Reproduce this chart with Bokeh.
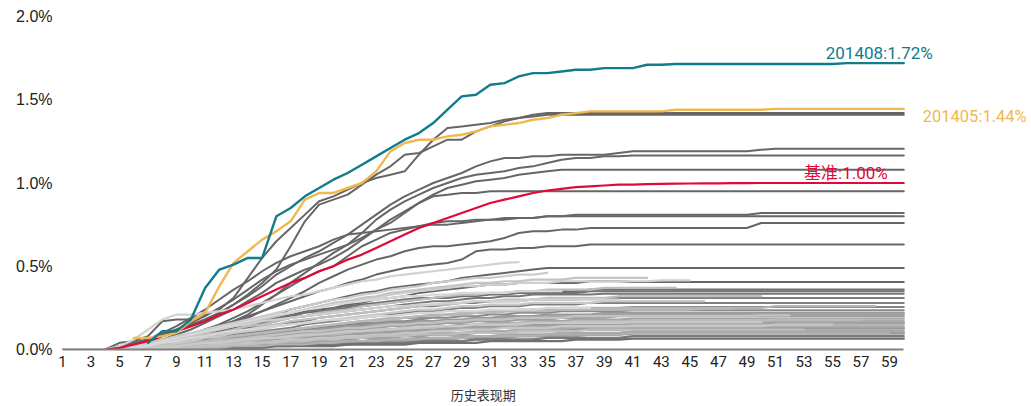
from bokeh.plotting import figure
from bokeh.models import Range1d, FixedTicker, PrintfTickFormatter, Label, LinearAxis
from bokeh.embed import file_html
from bokeh.resources import INLINE

# ---------------- data (basis points, 0.01%) ----------------
x_ticks = list(range(1, 60, 2))
y_ticks = [0.0, 0.5, 1.0, 1.5, 2.0]
x_title = "历史表现期"
x_title_pos = 30.5   # centre of periods 1..60

teal_name = "201408"
teal_start = 7
teal_vals = [4, 11, 11, 18,
             37, 48, 51, 55, 55, 80, 85, 92, 97, 102,
             106, 111, 116, 121, 126, 130, 136, 144, 152, 153,
             159, 160, 164, 166, 166, 167, 168, 168, 169, 169,
             169, 171, 171, 171.5, 171.5, 171.5, 171.5, 171.5, 171.5, 171.5,
             171.5, 171.5, 171.5, 171.5, 171.5, 172, 172, 172, 172, 172]
teal_label = "201408:1.72%"

yellow_name = "201405"
yellow_start = 6
yellow_vals = [7, 7, 8, 10, 17,
               22, 38, 52, 59, 66, 71, 77, 90, 94, 94,
               97, 100, 107, 119, 124, 126, 126, 128, 129, 131,
               134, 135, 136, 138, 139, 141, 142, 143, 143, 143,
               143, 143, 143, 144, 144, 144, 144, 144, 144, 144,
               144.5, 144.5, 144.5, 144.5, 144.5, 144.5, 144.5, 144.5, 144.5, 144.5]
yellow_label = "201405:1.44%"

base_start = 4
base_vals = [0, 1, 3, 5, 8, 11, 14,
             17, 21, 24, 28, 32, 36, 40, 43, 47, 50,
             54, 57, 61, 65, 69, 73, 76, 79, 82, 85,
             88, 90, 92, 94, 95.5, 96.5, 97.5, 98, 98.5, 99,
             99, 99.3, 99.5, 99.6, 99.7, 99.8, 99.8, 99.9, 99.9, 100,
             100, 100, 100, 100, 100, 100, 100, 100, 100, 100]
base_label = "基准:1.00%"

# older vintages (full 60 periods)
old_a1 = [0, 0, 0, 0, 4, 5, 8, 17, 18, 18,
          21, 24, 31, 43, 55, 65, 73, 81, 89, 92,
          96, 100, 103, 105, 107, 117, 126, 133, 134, 135,
          136, 138, 139, 141, 142, 142, 142, 142, 142, 142,
          142, 142, 142, 142, 142, 142, 142, 142, 142, 142,
          142, 142, 142, 142, 142, 142, 142, 142, 142, 142]
old_a2 = [0, 0, 0, 0, 2, 4, 6, 9, 12, 15,
          18, 22, 27, 33, 40, 48, 62, 77, 87, 90,
          93, 99, 105, 110, 117, 118, 122, 126, 126, 131,
          134, 137, 139, 140, 141, 141, 141, 141, 141, 141,
          141, 141, 141, 141, 141, 141, 141, 141, 141, 141,
          141, 141, 141, 141, 141, 141, 141, 141, 141, 141]
old_b = [0, 0, 0, 0, 1, 3, 5, 8, 11, 14,
         18, 22, 27, 32, 38, 45, 50, 55, 59, 64,
         69, 75, 81, 87, 92, 96, 100, 103, 106, 110,
         113, 115, 115, 116, 116, 117, 117, 117, 117, 118,
         119, 119, 119, 119, 119, 119, 119, 119, 119, 120,
         120.5, 120.5, 120.5, 120.5, 120.5, 120.5, 120.5, 120.5, 120.5, 120.5]
old_c = [0, 0, 0, 0, 1, 2, 3, 5, 7, 9,
         12, 15, 19, 23, 28, 33, 40, 46, 52, 58,
         63, 70, 78, 84, 89, 93, 97, 100, 103, 105,
         106, 107, 109, 110, 112, 114, 115, 115, 116, 116,
         116.5, 116.5, 116.5, 116.5, 116.5, 116.5, 116.5, 116.5, 116.5, 116.5,
         116.5, 116.5, 116.5, 116.5, 116.5, 116.5, 116.5, 116.5, 116.5, 116.5]
old_d = [0, 0, 0, 0, 2, 4, 6, 9, 12, 16,
         20, 25, 30, 36, 42, 47, 51, 54, 57, 60,
         63, 67, 72, 76, 82, 88, 93, 97, 99, 101,
         102, 103, 105, 106, 107, 108, 108, 108, 108, 108,
         108, 108, 108, 108, 108, 108, 108, 108, 108, 108,
         108, 108, 108, 108, 108, 108, 108, 108, 108, 108]
old_e = [0, 0, 0, 0, 1, 2, 4, 6, 9, 12,
         16, 20, 24, 29, 34, 40, 44, 48, 51, 55,
         60, 66, 72, 78, 83, 88, 92, 93, 94, 94,
         95, 95, 95, 95, 95, 95, 95, 95, 95, 95,
         95, 95, 95, 95, 95, 95, 95, 95, 95, 95,
         95, 95, 95, 95, 95, 95, 95, 95, 95, 95]
old_f = [0, 0, 0, 0, 1, 3, 6, 10, 14, 19,
         24, 30, 36, 41, 47, 52, 56, 59, 62, 66,
         69, 70, 71, 72, 73, 74, 75, 75, 76, 77,
         78, 78, 79, 79, 80, 80, 81, 81, 81, 81,
         81, 81, 81, 81, 81, 81, 81, 81, 81, 82,
         82, 82, 82, 82, 82, 82, 82, 82, 82, 82]
old_g = [0, 0, 0, 0, 0, 1, 2, 4, 6, 8,
         11, 14, 17, 21, 27, 33, 38, 43, 47, 50,
         56, 62, 66, 70, 72, 74, 76, 77, 77, 78,
         78, 79, 79, 79, 80, 80, 80, 80, 80, 80,
         80, 80, 80, 80, 80, 80, 80, 80, 80, 80,
         80, 80, 80, 80, 80, 80, 80, 80, 80, 80]
old_h = [0, 0, 0, 0, 1, 2, 3, 5, 7, 9,
         11, 13, 16, 19, 23, 27, 31, 35, 40, 44,
         48, 51, 54, 56, 59, 61, 62, 62, 63, 64,
         65, 67, 70, 71, 71, 72, 72, 73, 73, 73,
         73, 73, 73, 73, 73, 73, 73, 73, 73, 76,
         76, 76, 76, 76, 76, 76, 76, 76, 76, 76]
old_i = [0, 0, 0, 0, 0, 1, 3, 5, 7, 9,
         12, 14, 17, 20, 23, 26, 29, 32, 35, 37,
         40, 42, 45, 47, 49, 50, 51, 52, 54, 59,
         60, 60, 61, 61, 62, 62, 62, 63, 63, 63,
         63, 63, 63, 63, 63, 63, 63, 63, 63, 63,
         63, 63, 63, 63, 63, 63, 63, 63, 63, 63]
old_j = [0, 0, 0, 0, 0, 1, 2, 4, 6, 8,
         10, 12, 15, 17, 19, 21, 24, 26, 28, 30,
         32, 34, 35, 37, 38, 39, 40, 41, 43, 44,
         45, 46, 47, 48, 49, 49, 49, 49, 49, 49,
         49, 49, 49, 49, 49, 49, 49, 49, 49, 49,
         49, 49, 49, 49, 49, 49, 49, 49, 49, 49]
old_k = [0, 0, 0, 0, 0, 1, 2, 3, 5, 7,
         9, 11, 13, 15, 17, 19, 21, 23, 24, 25,
         27, 28, 30, 31, 32, 34, 35, 36, 37, 38,
         39, 39, 40, 40, 40, 40, 40, 41, 41, 41,
         40.5, 40.5, 40.5, 40.5, 40.5, 40.5, 40.5, 40.5, 40.5, 40.5,
         40.5, 40.5, 40.5, 40.5, 40.5, 40.5, 40.5, 40.5, 40.5, 40.5]

mid_1 = [0, 0, 0, 0, 1, 2, 3, 5, 7, 8,
         10, 12, 14, 16, 17, 19, 20, 22, 23, 25,
         26, 27, 28, 29, 30, 31, 31, 32, 33, 33,
         34, 34, 35, 35, 35, 35, 35, 36, 36, 36,
         36, 36, 36, 36, 36, 36, 36, 36, 36, 36,
         36, 36, 36, 36, 36, 36, 36, 36, 36, 36]
mid_2 = [0, 0, 0, 0, 0, 1, 2, 3, 5, 6,
         8, 10, 12, 13, 15, 17, 19, 20, 22, 24,
         25, 26, 27, 28, 29, 30, 31, 31, 32, 32,
         33, 33, 34, 34, 34, 34, 34, 35, 35, 35,
         35, 35, 35, 35, 35, 35, 35, 35, 35, 35,
         35, 35, 35, 35, 35, 35, 35, 35, 35, 35]
mid_3 = [0, 0, 0, 0, 1, 2, 4, 6, 7, 9,
         11, 12, 14, 15, 16, 18, 19, 20, 21, 22,
         23, 24, 25, 26, 27, 28, 29, 29, 30, 31,
         31, 32, 32, 33, 33, 33, 33, 33, 33.5, 33.5,
         33.5, 33.5, 33.5, 33.5, 33.5, 33.5, 33.5, 33.5, 33.5, 33.5,
         33.5, 33.5, 33.5, 33.5, 33.5, 33.5, 33.5, 33.5, 33.5, 33.5]
mid_4 = [0, 0, 0, 0, 0, 1, 2, 3, 4, 6,
         7, 9, 10, 12, 13, 15, 16, 17, 19, 20,
         21, 22, 23, 24, 25, 26, 26, 27, 28, 28,
         29, 29, 29, 30, 30, 30, 30, 31, 31, 31,
         31, 31, 31, 31, 31, 31, 31, 31, 31, 31,
         31, 31, 31, 31, 31, 31, 31, 31, 31, 31]
mid_5 = [0, 0, 0, 0, 0, 1, 2, 3, 4, 5,
         6, 7, 9, 10, 11, 12, 13, 15, 16, 17,
         18, 19, 20, 21, 22, 23, 23, 24, 25, 25,
         26, 26, 26, 27, 27, 27, 27, 28, 28, 28,
         28, 28, 28, 28, 28, 28, 28, 28, 28, 28,
         28, 28, 28, 28, 28, 28, 28, 28, 28, 28]
mid_6 = [0, 0, 0, 0, 0, 1, 1, 2, 3, 4,
         5, 6, 7, 8, 9, 10, 11, 12, 13, 14,
         15, 16, 17, 18, 19, 19, 20, 21, 21, 22,
         22, 23, 23, 24, 24, 24, 25, 25, 25, 25,
         25.5, 25.5, 25.5, 25.5, 25.5, 25.5, 25.5, 25.5, 25.5, 25.5,
         25.5, 25.5, 25.5, 25.5, 25.5, 25.5, 25.5, 25.5, 25.5, 25.5]
mid_7 = [0, 0, 0, 0, 0, 0, 1, 2, 3, 4,
         5, 6, 7, 8, 9, 10, 11, 12, 13, 13,
         14, 15, 16, 17, 17, 18, 19, 19, 20, 20,
         21, 21, 22, 22, 22, 23, 23, 23, 23, 23,
         23.5, 23.5, 23.5, 23.5, 23.5, 23.5, 23.5, 23.5, 23.5, 23.5,
         23.5, 23.5, 23.5, 23.5, 23.5, 23.5, 23.5, 23.5, 23.5, 23.5]

low_1 = [0, 0, 0, 0, 0, 0, 1, 2, 3, 4,
         5, 6, 7, 8, 9, 10, 10, 11, 12, 13,
         14, 14, 15, 16, 16, 17, 17, 18, 18, 19,
         19, 20, 20, 20, 21, 21, 21, 21, 22, 22,
         22, 22, 22, 22, 22, 22, 22, 22, 22, 22,
         22, 22, 22, 22, 22, 22, 22, 22, 22, 22]
low_2 = [0, 0, 0, 0, 0, 0, 1, 1, 2, 3,
         3, 4, 5, 6, 7, 8, 9, 9, 10, 11,
         12, 12, 13, 14, 14, 15, 15, 16, 16, 17,
         17, 17, 18, 18, 18, 19, 19, 19, 19, 20,
         20, 20, 20, 20, 20, 20, 20, 20, 20, 20,
         20, 20, 20, 20, 20, 20, 20, 20, 20, 20]
low_3 = [0, 0, 0, 0, 0, 0, 0, 1, 1, 2,
         3, 3, 4, 5, 6, 6, 7, 8, 9, 9,
         10, 11, 11, 12, 13, 13, 14, 14, 15, 15,
         16, 16, 16, 17, 17, 17, 18, 18, 18, 18,
         18.5, 18.5, 18.5, 18.5, 18.5, 18.5, 18.5, 18.5, 18.5, 18.5,
         18.5, 18.5, 18.5, 18.5, 18.5, 18.5, 18.5, 18.5, 18.5, 18.5]
low_4 = [0, 0, 0, 0, 0, 0, 1, 1, 2, 3,
         4, 5, 5, 6, 7, 8, 8, 9, 10, 10,
         11, 11, 12, 12, 13, 13, 14, 14, 14, 15,
         15, 15, 16, 16, 16, 16, 16, 17, 17, 17,
         17, 17, 17, 17, 17, 17, 17, 17, 17, 17,
         17, 17, 17, 17, 17, 17, 17, 17, 17, 17]
low_5 = [0, 0, 0, 0, 0, 0, 0, 1, 1, 2,
         2, 3, 3, 4, 5, 5, 6, 6, 7, 8,
         8, 9, 9, 10, 10, 11, 11, 12, 12, 13,
         13, 13, 14, 14, 14, 14, 15, 15, 15, 15,
         15.5, 15.5, 15.5, 15.5, 15.5, 15.5, 15.5, 15.5, 15.5, 15.5,
         15.5, 15.5, 15.5, 15.5, 15.5, 15.5, 15.5, 15.5, 15.5, 15.5]
low_6 = [0, 0, 0, 0, 0, 0, 0, 0, 1, 1,
         2, 2, 3, 3, 4, 4, 5, 5, 6, 6,
         7, 7, 8, 8, 9, 9, 10, 10, 10, 11,
         11, 11, 12, 12, 12, 13, 13, 13, 13, 13,
         14, 14, 14, 14, 14, 14, 14, 14, 14, 14,
         14, 14, 14, 14, 14, 14, 14, 14, 14, 14]
low_7 = [0, 0, 0, 0, 0, 0, 0, 1, 1, 1,
         2, 2, 3, 3, 3, 4, 4, 5, 5, 6,
         6, 7, 7, 7, 8, 8, 9, 9, 9, 10,
         10, 10, 11, 11, 11, 11, 12, 12, 12, 12,
         12.5, 12.5, 12.5, 12.5, 12.5, 12.5, 12.5, 12.5, 12.5, 12.5,
         12.5, 12.5, 12.5, 12.5, 12.5, 12.5, 12.5, 12.5, 12.5, 12.5]
low_8 = [0, 0, 0, 0, 0, 0, 0, 0, 1, 1,
         1, 2, 2, 2, 3, 3, 4, 4, 4, 5,
         5, 5, 6, 6, 6, 7, 7, 7, 8, 8,
         8, 9, 9, 9, 9, 10, 10, 10, 10, 10,
         11, 11, 11, 11, 11, 11, 11, 11, 11, 11,
         11, 11, 11, 11, 11, 11, 11, 11, 11, 11]
low_9 = [0, 0, 0, 0, 0, 0, 0, 0, 0, 1,
         1, 1, 2, 2, 2, 3, 3, 3, 4, 4,
         4, 5, 5, 5, 5, 6, 6, 6, 7, 7,
         7, 7, 8, 8, 8, 8, 8, 9, 9, 9,
         9.5, 9.5, 9.5, 9.5, 9.5, 9.5, 9.5, 9.5, 9.5, 9.5,
         9.5, 9.5, 9.5, 9.5, 9.5, 9.5, 9.5, 9.5, 9.5, 9.5]
low_10 = [0, 0, 0, 0, 0, 0, 0, 0, 0, 1,
          1, 1, 1, 2, 2, 2, 2, 3, 3, 3,
          3, 4, 4, 4, 4, 5, 5, 5, 5, 6,
          6, 6, 6, 6, 7, 7, 7, 7, 7, 7,
          8, 8, 8, 8, 8, 8, 8, 8, 8, 8,
          8, 8, 8, 8, 8, 8, 8, 8, 8, 8]
low_11 = [0, 0, 0, 0, 0, 0, 0, 0, 0, 0,
          1, 1, 1, 1, 1, 2, 2, 2, 2, 2,
          3, 3, 3, 3, 3, 4, 4, 4, 4, 4,
          5, 5, 5, 5, 5, 5, 6, 6, 6, 6,
          6.5, 6.5, 6.5, 6.5, 6.5, 6.5, 6.5, 6.5, 6.5, 6.5,
          6.5, 6.5, 6.5, 6.5, 6.5, 6.5, 6.5, 6.5, 6.5, 6.5]
low_12 = [0, 0, 0, 0, 0, 0, 1, 1, 2, 3,
          4, 5, 6, 7, 8, 8, 9, 10, 11, 12,
          12, 13, 14, 15, 15, 16, 16, 17, 17, 18,
          18, 19, 19, 19, 20, 20, 20, 20, 21, 21,
          21, 21, 21, 21, 21, 21, 21, 21, 21, 21,
          21, 21, 21, 21, 21, 21, 21, 21, 21, 21]
low_13 = [0, 0, 0, 0, 0, 0, 0, 1, 1, 2,
          3, 3, 4, 5, 5, 6, 7, 7, 8, 9,
          9, 10, 10, 11, 11, 12, 12, 13, 13, 14,
          14, 14, 15, 15, 15, 15, 16, 16, 16, 16,
          16.5, 16.5, 16.5, 16.5, 16.5, 16.5, 16.5, 16.5, 16.5, 16.5,
          16.5, 16.5, 16.5, 16.5, 16.5, 16.5, 16.5, 16.5, 16.5, 16.5]
low_14 = [0, 0, 0, 0, 0, 0, 0, 0, 1, 1,
          2, 2, 2, 3, 3, 4, 4, 5, 5, 6,
          6, 7, 7, 8, 8, 8, 9, 9, 10, 10,
          10, 11, 11, 11, 11, 12, 12, 12, 12, 12,
          13, 13, 13, 13, 13, 13, 13, 13, 13, 13,
          13, 13, 13, 13, 13, 13, 13, 13, 13, 13]
low_15 = [0, 0, 0, 0, 0, 0, 0, 0, 0, 1,
          1, 1, 2, 2, 2, 3, 3, 3, 3, 4,
          4, 4, 5, 5, 5, 6, 6, 6, 7, 7,
          7, 7, 8, 8, 8, 8, 9, 9, 9, 9,
          10, 10, 10, 10, 10, 10, 10, 10, 10, 10,
          10, 10, 10, 10, 10, 10, 10, 10, 10, 10]

# newer vintages (shorter histories)
new_1 = [0, 0, 0, 0, 2, 6, 12, 18, 21, 21,
         22, 23, 24, 26, 28, 30, 32, 33, 35, 37,
         39, 41, 42, 44, 45, 46, 47, 48, 49, 50,
         51, 52, 52.5]
new_2 = [0, 0, 0, 0, 1, 2, 4, 6, 8, 10,
         12, 14, 16, 18, 20, 22, 24, 26, 28, 30,
         31, 33, 34, 36, 37, 38, 40, 41, 42, 43,
         43, 44, 45, 45, 46]
new_3 = [0, 0, 0, 0, 0, 1, 2, 4, 6, 8,
         10, 12, 14, 16, 18, 20, 22, 24, 26, 28,
         29, 31, 32, 34, 35, 36, 37, 38, 39, 40,
         40, 41, 41, 42, 42, 42, 43, 43, 43, 43,
         43, 43]
new_4 = [0, 0, 0, 0, 0, 1, 3, 5, 7, 9,
         11, 13, 15, 17, 19, 21, 22, 24, 26, 27,
         29, 30, 31, 33, 34, 35, 36, 37, 38, 38,
         39, 39, 40, 40, 40, 41, 41, 41, 41, 41,
         41, 41, 41.5, 41.5, 41.5]
new_5 = [0, 0, 0, 0, 0, 1, 2, 3, 5, 7,
         9, 10, 12, 14, 15, 17, 19, 20, 22, 23,
         24, 26, 27, 28, 29, 30, 31, 32, 33, 33,
         34, 34, 35, 35, 36, 36, 36, 36, 37, 37,
         37, 37, 37, 37]
new_6 = [0, 0, 0, 0, 0, 1, 2, 3, 4, 6,
         8, 9, 11, 12, 14, 15, 17, 18, 19, 20,
         21, 22, 23, 24, 25, 26, 27, 27, 28, 29,
         29, 30, 30, 30, 31, 31, 31, 31, 31, 32,
         32, 32, 32, 32, 32, 32, 32, 32, 32, 32]
new_7 = [0, 0, 0, 0, 0, 0, 1, 2, 4, 5,
         7, 8, 10, 11, 12, 14, 15, 16, 17, 18,
         19, 20, 21, 22, 23, 24, 24, 25, 26, 26,
         27, 27, 27, 28, 28, 28, 28, 28, 29, 29,
         29, 29, 29, 29, 29, 29]
new_8 = [0, 0, 0, 0, 0, 0, 1, 2, 3, 4,
         5, 7, 8, 9, 10, 11, 12, 13, 14, 15,
         16, 17, 17, 18, 19, 20, 20, 21, 21, 22,
         22, 23, 23, 23, 23, 24, 24, 24, 24, 24,
         24, 24, 24, 24, 24, 24.5, 24.5, 24.5]
new_9 = [0, 0, 0, 0, 0, 0, 1, 2, 3, 4,
         5, 6, 8, 9, 10, 11, 12, 13, 14, 15,
         16, 17, 18, 19, 19, 20, 21, 21, 22, 22,
         23, 23, 24, 24, 24, 25, 25, 25, 25, 25,
         25, 25, 25, 25, 25, 25, 25, 25, 25, 25,
         26, 26, 26, 26, 26, 26, 26, 26]
new_10 = [0, 0, 0, 0, 0, 0, 0, 1, 2, 3,
          4, 5, 6, 7, 8, 9, 10, 11, 11, 12,
          13, 13, 14, 15, 15, 16, 16, 17, 17, 18,
          18, 18, 19, 19, 19, 19, 20, 20, 20, 20,
          20, 20, 20, 20, 20, 20, 20, 20, 20, 20.5,
          20.5, 20.5]
new_11 = [0, 0, 0, 0, 0, 0, 0, 1, 1, 2,
          3, 4, 4, 5, 6, 7, 7, 8, 9, 9,
          10, 11, 11, 12, 12, 13, 13, 14, 14, 15,
          15, 15, 16, 16, 16, 16, 17, 17, 17, 17,
          17, 17, 17, 17, 17, 17, 17, 17, 17, 17,
          18, 18, 18, 18, 18, 18, 18]
new_12 = [0, 0, 0, 0, 0, 0, 0, 0, 1, 1,
          2, 3, 3, 4, 4, 5, 6, 6, 7, 7,
          8, 8, 9, 9, 10, 10, 11, 11, 12, 12,
          12, 13, 13, 13, 13, 14, 14, 14, 14, 14,
          14, 14, 14, 14, 14, 14, 14, 14, 14, 14,
          15, 15, 15, 15, 15]
new_13 = [0, 0, 0, 0, 0, 1, 3, 5, 7, 9,
          11, 12, 14, 15, 17, 18, 19, 20, 21, 22,
          23, 24, 25, 26, 26, 27, 27, 28, 28, 29,
          29, 29, 29, 30, 30, 30, 30, 30, 30, 30]
new_14 = [0, 0, 0, 0, 0, 1, 2, 4, 5, 7,
          8, 10, 11, 12, 13, 14, 15, 16, 17, 18,
          18, 19, 20, 20, 21, 22, 22, 23, 23, 23,
          24, 24, 24, 24, 25, 25, 25, 25]
new_15 = [0, 0, 0, 0, 0, 1, 3, 5, 7, 9,
          11, 13, 15, 17, 19, 21, 22, 24, 25, 27,
          28, 29, 30, 31, 32, 32, 33, 33, 34, 34,
          34, 34, 35, 35, 35, 35]
new_16 = [0, 0, 0, 0, 0, 0, 0, 0, 1, 1,
          2, 2, 3, 3, 4, 4, 5, 5, 6, 6,
          7, 7, 8, 8, 8, 9, 9, 9, 10, 10,
          10, 10, 11, 11, 11, 11, 11, 12, 12, 12,
          12, 12, 12, 12, 12, 12, 12, 12, 12, 12,
          12, 12, 12]
new_17 = [0, 0, 0, 0, 0, 0, 0, 0, 0, 1,
          1, 1, 2, 2, 2, 3, 3, 3, 4, 4,
          5, 5, 5, 6, 6, 6, 7, 7, 7, 8,
          8, 8, 8, 8, 9, 9, 9, 9, 9, 9,
          10, 10, 10, 10, 10, 10, 10, 10, 10, 10,
          10, 10, 10, 10, 10, 10, 10, 10, 10]
new_18 = [0, 0, 0, 0, 0, 0, 1, 1, 2, 3,
          4, 4, 5, 6, 7, 7, 8, 9, 9, 10,
          11, 11, 12, 12, 13, 13, 14, 14, 14, 15,
          15, 15, 15, 16, 16, 16, 16, 16, 16, 16,
          16.5, 16.5, 16.5, 16.5, 16.5, 16.5, 16.5, 16.5, 16.5, 16.5]

# ---------------- figure ----------------
W, H = 1031, 406
LEFT, TOP, BOTTOM = 62, 16, 57
PX_PER_PERIOD = 827 / 58.0
x_end = 1 + (W - LEFT) / PX_PER_PERIOD

p = figure(width=W, height=H, output_backend="svg", toolbar_location=None,
           x_range=Range1d(1, x_end), y_range=Range1d(0, 2.0),
           min_border_left=LEFT, min_border_right=0,
           min_border_top=TOP, min_border_bottom=BOTTOM)
p.outline_line_color = None
p.xgrid.visible = False
p.ygrid.visible = False
p.background_fill_color = "white"
p.border_fill_color = "white"


def draw(vals, start, color, width=2.0):
    xs = list(range(start, start + len(vals)))
    ys = [v / 100.0 for v in vals]
    p.line(xs, ys, line_color=color, line_width=width,
           line_join="round", line_cap="round")


dark = "#666666"
for s in [old_a1, old_a2, old_b, old_c, old_d, old_e, old_f, old_g,
          old_h, old_i, old_j, old_k]:
    draw(s, 1, dark)
for s, c in [(mid_1, "#6e6e6e"), (mid_2, "#727272"), (mid_3, "#777777"),
             (mid_4, "#7c7c7c"), (mid_5, "#808080"), (mid_6, "#858585"),
             (mid_7, "#8a8a8a")]:
    draw(s, 1, c)
for s, c in [(low_1, "#9a9a9a"), (low_12, "#a4a4a4"), (low_2, "#a0a0a0"),
             (low_3, "#a6a6a6"), (low_13, "#9c9c9c"), (low_4, "#acacac"),
             (low_5, "#a2a2a2"), (low_6, "#b0b0b0"), (low_14, "#aaaaaa"),
             (low_7, "#999999"), (low_8, "#a8a8a8"), (low_15, "#a0a0a0"),
             (low_9, "#9e9e9e"), (low_10, "#7a7a7a"), (low_11, "#707070")]:
    draw(s, 1, c, 2.3)
for s, c in [(new_9, "#b4b4b4"), (new_11, "#bababa"), (new_17, "#b0b0b0"),
             (new_12, "#c6c6c6"), (new_16, "#bfbfbf"), (new_10, "#c2c2c2"),
             (new_8, "#b8b8b8"), (new_18, "#c9c9c9"), (new_6, "#c0c0c0"),
             (new_7, "#c8c8c8"), (new_5, "#bcbcbc"), (new_4, "#cfcfcf"),
             (new_3, "#c4c4c4"), (new_13, "#d0d0d0"), (new_14, "#d6d6d6"),
             (new_15, "#d8d8d8"), (new_2, "#cccccc"), (new_1, "#d2d2d2")]:
    draw(s, 1, c, 2.2)

RED, YEL, TEAL = "#e00a37", "#f0b850", "#127b8c"
draw(base_vals, base_start, RED, 2.2)
draw(yellow_vals, yellow_start, YEL, 2.4)
draw(teal_vals, teal_start, TEAL, 2.4)

# labels at the end of the highlighted curves
lab_font = "Roboto, Noto Sans CJK SC"
p.add_layout(Label(x=60, y=teal_vals[-1] / 100, text=teal_label,
                   text_color=TEAL, text_font=lab_font, text_font_size="17px",
                   text_align="right", text_baseline="middle",
                   x_offset=29, y_offset=10))
p.add_layout(Label(x=60, y=yellow_vals[-1] / 100, text=yellow_label,
                   text_color=YEL, text_font=lab_font, text_font_size="16.5px",
                   text_align="left", text_baseline="middle",
                   x_offset=19, y_offset=-8))
p.add_layout(Label(x=60, y=base_vals[-1] / 100, text=base_label,
                   text_color=RED, text_font=lab_font, text_font_size="17px",
                   text_align="right", text_baseline="middle",
                   x_offset=-16, y_offset=10))

# axes
xa = p.xaxis[0]
xa.ticker = FixedTicker(ticks=x_ticks)
xa.bounds = (1, 60)
xa.axis_line_color = "#808080"
xa.axis_line_width = 2
xa.major_tick_line_color = None
xa.minor_tick_line_color = None
xa.major_label_text_font = "Roboto"
xa.major_label_text_font_size = "15px"
xa.major_label_text_color = "#222222"
xa.major_label_standoff = 0

# axis title, centred under periods 1..60
title_axis = LinearAxis(ticker=FixedTicker(ticks=[x_title_pos]),
                        major_label_overrides={x_title_pos: x_title},
                        axis_line_color=None, major_tick_line_color=None,
                        minor_tick_line_color=None,
                        major_label_text_font="Noto Sans CJK SC",
                        major_label_text_font_size="13px",
                        major_label_text_color="#333333",
                        major_label_standoff=9)
p.add_layout(title_axis, "below")

ya = p.yaxis[0]
ya.ticker = FixedTicker(ticks=y_ticks)
ya.formatter = PrintfTickFormatter(format="%.1f%%")
ya.axis_line_color = None
ya.major_tick_line_color = None
ya.minor_tick_line_color = None
ya.major_label_text_font = "Liberation Sans"
ya.major_label_text_font_size = "16px"
ya.major_label_text_color = "#222222"
ya.major_label_standoff = 4

open("out.html", "w").write(file_html(p, INLINE))
